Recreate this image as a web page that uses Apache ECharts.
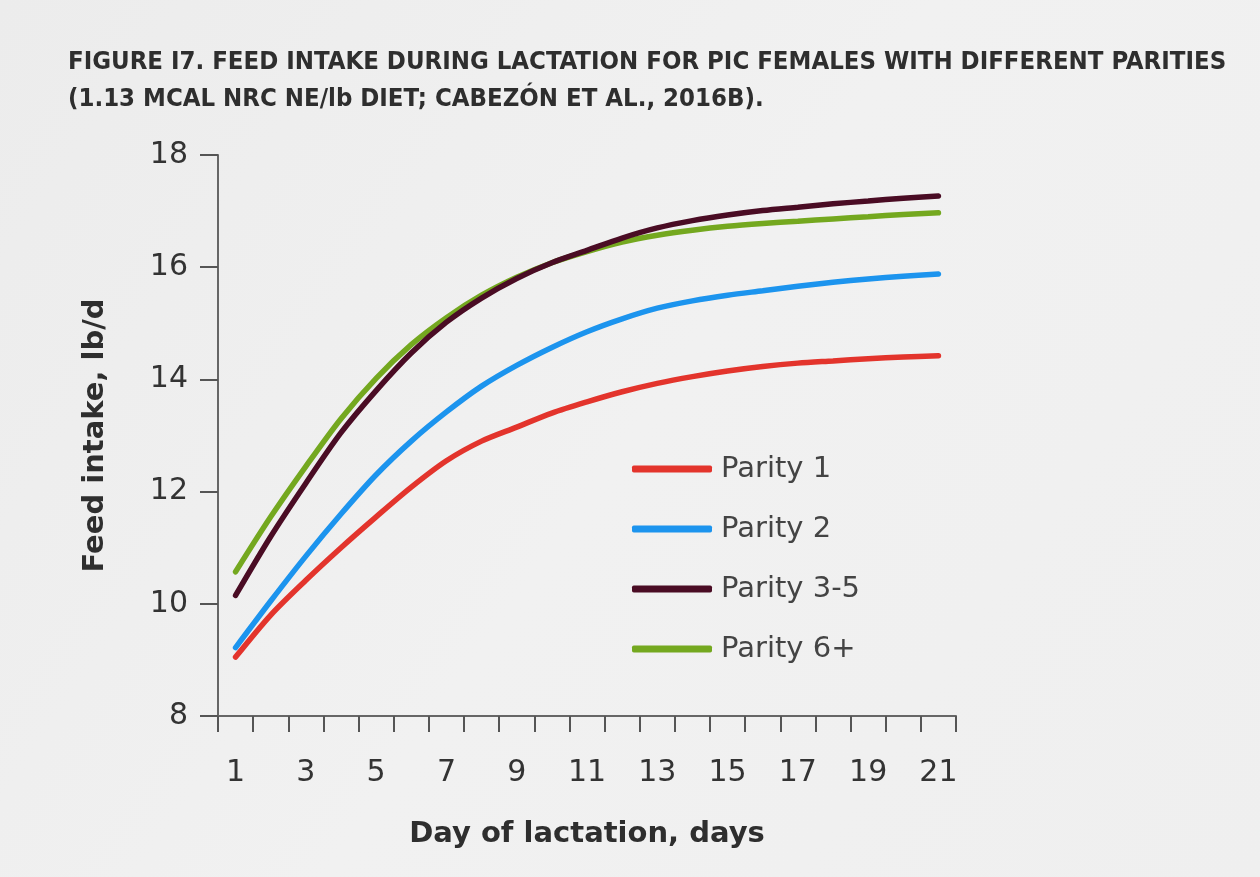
<!DOCTYPE html>
<html>
<head>
<meta charset="utf-8">
<script src="https://cdn.jsdelivr.net/npm/echarts@6/dist/echarts.min.js"></script>
<style>
  html, body { margin: 0; padding: 0; background: #efefef; }
  #chart { width: 1260px; height: 877px; }
</style>
</head>
<body>
<div id="chart"></div>
<script>
    // days of lactation
    const days = ['1','2','3','4','5','6','7','8','9','10','11','12','13','14','15','16','17','18','19','20','21'];

    // feed intake, lb/d
    const parity1  = [9.05, 9.8, 10.42, 11.0, 11.55, 12.08, 12.55, 12.9, 13.15, 13.4, 13.6, 13.78, 13.93, 14.05, 14.15, 14.23, 14.29, 14.33, 14.37, 14.4, 14.42];
    const parity2  = [9.22, 10.05, 10.85, 11.6, 12.3, 12.9, 13.42, 13.88, 14.25, 14.57, 14.85, 15.08, 15.27, 15.4, 15.5, 15.58, 15.66, 15.73, 15.79, 15.84, 15.88];
    const parity35 = [10.15, 11.2, 12.15, 13.05, 13.8, 14.47, 15.02, 15.45, 15.8, 16.08, 16.3, 16.52, 16.7, 16.83, 16.93, 17.01, 17.07, 17.13, 17.18, 17.23, 17.27];
    const parity6  = [10.57, 11.55, 12.45, 13.3, 14.02, 14.62, 15.1, 15.5, 15.82, 16.08, 16.28, 16.45, 16.57, 16.66, 16.73, 16.78, 16.82, 16.86, 16.9, 16.94, 16.97];

    const seriesNames = ['Parity 1', 'Parity 2', 'Parity 3-5', 'Parity 6+'];
    const seriesColors = ['#e3342c', '#1c94ee', '#4a0c24', '#74a81f'];
    const seriesData = [parity1, parity2, parity35, parity6];

    const chart = echarts.init(document.getElementById('chart'));

    chart.setOption({
        animation: false,
        backgroundColor: {
            type: 'linear', x: 0, y: 0, x2: 1, y2: 1,
            colorStops: [
                { offset: 0, color: '#ececec' },
                { offset: 0.5, color: '#f1f1f1' },
                { offset: 1, color: '#efefef' }
            ]
        },
        title: {
            text: 'FIGURE I7. FEED INTAKE DURING LACTATION FOR PIC FEMALES WITH DIFFERENT PARITIES\n(1.13 MCAL NRC NE/lb DIET; CABEZÓN ET AL., 2016B).',
            left: 63,
            top: 39,
            textStyle: {
                fontFamily: 'DejaVu Sans Condensed, Liberation Sans Narrow, sans-serif',
                fontWeight: 'bold',
                fontSize: 25.5,
                lineHeight: 37,
                color: '#2e2e2e'
            }
        },
        legend: {
            orient: 'vertical',
            left: 627,
            top: 449,
            icon: 'roundRect',
            itemWidth: 80,
            itemHeight: 7,
            itemGap: 30,
            textStyle: {
                fontFamily: 'DejaVu Sans, Verdana, sans-serif',
                fontSize: 29,
                lineHeight: 30,
                padding: [0, 0, 0, 4],
                color: '#444'
            },
            data: seriesNames
        },
        grid: {
            left: 218,
            right: 304,
            top: 155,
            bottom: 161
        },
        xAxis: {
            type: 'category',
            boundaryGap: true,
            data: days,
            name: 'Day of lactation, days',
            nameLocation: 'middle',
            nameGap: 104,
            nameTextStyle: {
                fontFamily: 'DejaVu Sans, Verdana, sans-serif',
                fontWeight: 'bold',
                fontSize: 29,
                color: '#2e2e2e'
            },
            axisLine: { lineStyle: { color: '#666', width: 2 } },
            axisTick: { show: true, interval: 0, length: 16, lineStyle: { color: '#555', width: 2 } },
            axisLabel: {
                interval: 1,
                margin: 42,
                fontFamily: 'DejaVu Sans, Verdana, sans-serif',
                fontSize: 30,
                color: '#333'
            },
            splitLine: { show: false }
        },
        yAxis: {
            type: 'value',
            min: 8,
            max: 18,
            interval: 2,
            name: 'Feed intake, lb/d',
            nameLocation: 'middle',
            nameGap: 108,
            nameTextStyle: {
                fontFamily: 'DejaVu Sans, Verdana, sans-serif',
                fontWeight: 'bold',
                fontSize: 29,
                color: '#2e2e2e'
            },
            axisLine: { show: true, lineStyle: { color: '#666', width: 2 } },
            axisTick: { show: true, length: 18, lineStyle: { color: '#555', width: 2 } },
            axisLabel: {
                margin: 30,
                fontFamily: 'DejaVu Sans, Verdana, sans-serif',
                fontSize: 30,
                color: '#333'
            },
            splitLine: { show: false }
        },
        series: seriesNames.map((name, i) => ({
            name: name,
            type: 'line',
            data: seriesData[i],
            smooth: 0.3,
            symbol: 'none',
            color: seriesColors[i],
            lineStyle: { width: 5.5, color: seriesColors[i], cap: 'round' },
            z: i === 2 ? 3 : 2
        }))
    });
</script>
</body>
</html>
